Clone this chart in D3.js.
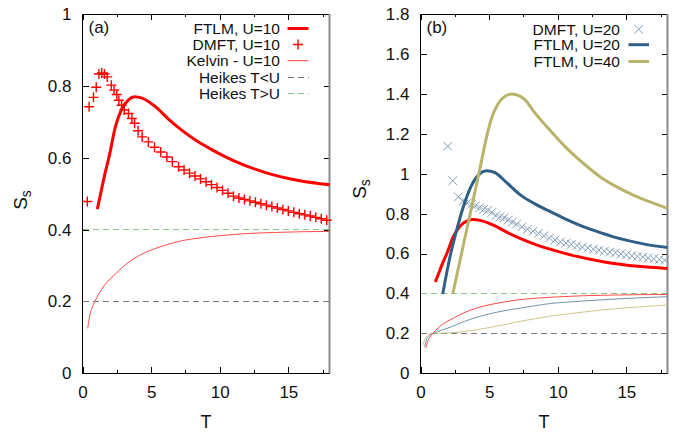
<!DOCTYPE html>
<html>
<head>
<meta charset="utf-8">
<script src="https://cdn.jsdelivr.net/npm/d3@7"></script>
<style>
  body { margin: 0; background: #fff; }
  svg { display: block; }
  text { font-family: "Liberation Sans", Arial, Helvetica, sans-serif; fill: #111; }
</style>
</head>
<body>
<svg id="chart" width="685" height="435"></svg>
<script>
// ---- x axis ticks (shared) ----
const tMajor = [0, 5, 10, 15];
const tMinor = [2.5, 7.5, 12.5, 17.5];

// ---- panel (a) y ticks ----
const yTicksA = [0, 0.2, 0.4, 0.6, 0.8, 1];
const yLabelsA = ["0", "0.2", "0.4", "0.6", "0.8", "1"];
// ---- panel (b) y ticks ----
const yTicksB = [0, 0.2, 0.4, 0.6, 0.8, 1, 1.2, 1.4, 1.6, 1.8];
const yLabelsB = ["0", "0.2", "0.4", "0.6", "0.8", "1", "1.2", "1.4", "1.6", "1.8"];

// ---- FTLM, U=10 ----
const ftlm10T = [1.08, 1.35, 1.62, 1.95, 2.39, 2.88, 3.37, 3.8, 4.34, 5.31, 6.28, 7.25, 8.4, 9.44, 11.0, 13.4, 15.85, 18];
const ftlm10S = [0.457, 0.505, 0.553, 0.605, 0.685, 0.737, 0.762, 0.770, 0.766, 0.742, 0.707, 0.676, 0.645, 0.622, 0.592, 0.558, 0.536, 0.525];

// ---- DMFT, U=10 ----
const dmft10T = [0.35, 0.48, 0.8, 1.0, 1.2, 1.4, 1.6, 1.8, 2.1, 2.3, 2.5, 2.65, 2.85, 3.05, 3.35, 3.6, 3.8, 4.05, 4.35, 4.8, 5.25, 5.7, 6.15, 6.55, 7.0, 7.4, 7.8, 8.2, 8.6, 9.0, 9.4, 9.8, 10.2, 10.6, 11.0, 11.4, 11.8, 12.2, 12.6, 13.0, 13.4, 13.8, 14.2, 14.6, 15.0, 15.4, 15.8, 16.2, 16.6, 17.0, 17.4, 17.8];
const dmft10S = [0.478, 0.742, 0.768, 0.796, 0.833, 0.836, 0.833, 0.825, 0.802, 0.788, 0.776, 0.760, 0.746, 0.733, 0.723, 0.709, 0.696, 0.675, 0.658, 0.644, 0.629, 0.616, 0.602, 0.589, 0.575, 0.566, 0.557, 0.549, 0.541, 0.533, 0.525, 0.517, 0.509, 0.501, 0.493, 0.488, 0.484, 0.480, 0.476, 0.472, 0.468, 0.464, 0.460, 0.456, 0.452, 0.448, 0.444, 0.441, 0.438, 0.434, 0.430, 0.426];

// ---- Kelvin, U=10 ----
const kelvin10T = [0.38, 0.5, 0.7, 0.9, 1.2, 1.6, 2.0, 2.5, 3, 4, 5, 6, 7, 8, 10, 12, 14, 16, 18];
const kelvin10S = [0.125, 0.155, 0.183, 0.200, 0.222, 0.245, 0.262, 0.280, 0.298, 0.325, 0.343, 0.356, 0.367, 0.374, 0.383, 0.389, 0.392, 0.394, 0.395];

// ---- FTLM, U=20 ----
const ftlm20T = [1.62, 2.15, 2.64, 3.12, 3.73, 4.34, 4.82, 5.43, 6.28, 7.25, 8.3, 9.4, 10.5, 11.5, 12.8, 14, 15.3, 16.4, 18];
const ftlm20S = [0.397, 0.584, 0.718, 0.834, 0.943, 1.001, 1.015, 1.005, 0.955, 0.895, 0.850, 0.812, 0.775, 0.745, 0.712, 0.685, 0.662, 0.646, 0.630];

// ---- FTLM, U=40 ----
const ftlm40T = [2.35, 3.0, 3.7, 4.3, 4.94, 5.3, 5.67, 6.1, 6.65, 7.2, 7.62, 8.22, 9.44, 10.66, 11.87, 13.08, 14.3, 15.51, 16.73, 18];
const ftlm40S = [0.397, 0.603, 0.825, 1.015, 1.220, 1.300, 1.352, 1.385, 1.399, 1.390, 1.370, 1.315, 1.218, 1.127, 1.052, 0.985, 0.934, 0.893, 0.859, 0.827];

// ---- DMFT, U=20 ----
const dmft20T = [1.98, 2.35, 2.76, 3.1, 3.4, 3.7, 4.0, 4.3, 4.6, 4.9, 5.2, 5.5, 5.8, 6.1, 6.4, 6.7, 7.0, 7.4, 7.8, 8.2, 8.6, 9.0, 9.4, 9.8, 10.2, 10.6, 11.0, 11.4, 11.8, 12.2, 12.6, 13.0, 13.4, 13.8, 14.2, 14.6, 15.0, 15.4, 15.8, 16.2, 16.6, 17.0, 17.4, 17.8];
const dmft20S = [1.138, 0.965, 0.884, 0.862, 0.853, 0.846, 0.838, 0.829, 0.821, 0.816, 0.806, 0.790, 0.784, 0.779, 0.768, 0.758, 0.747, 0.734, 0.722, 0.712, 0.701, 0.689, 0.678, 0.668, 0.658, 0.652, 0.646, 0.640, 0.632, 0.627, 0.622, 0.617, 0.612, 0.607, 0.603, 0.598, 0.593, 0.589, 0.585, 0.582, 0.578, 0.574, 0.570, 0.566];

// ---- Kelvin, U=20 and U=40 ----
const kelvin20T = [0.3, 0.45, 0.67, 1.03, 1.5, 2.25, 3.2, 4.68, 6.0, 7.1, 8.3, 9.5, 10.8, 12.0, 14.4, 16.0, 18.0];
const kelvin20S = [0.133, 0.170, 0.192, 0.203, 0.215, 0.233, 0.260, 0.292, 0.312, 0.325, 0.338, 0.350, 0.357, 0.363, 0.373, 0.378, 0.384];
const kelvin40T = [0.18, 0.3, 0.42, 0.6, 0.79, 1.2, 2.25, 3.5, 4.68, 6.0, 7.1, 8.3, 9.5, 10.8, 12.0, 14.4, 16.0, 18.0];
const kelvin40S = [0.142, 0.168, 0.183, 0.194, 0.200, 0.201, 0.203, 0.212, 0.225, 0.242, 0.258, 0.273, 0.287, 0.298, 0.308, 0.325, 0.333, 0.342];

// ---- Heikes limits ----
const heikesLow = 0.2;   // T<U
const heikesHigh = 0.4;  // T>U

// ---- legends ----
const legendA = ["FTLM, U=10", "DMFT, U=10", "Kelvin - U=10", "Heikes T<U", "Heikes T>U"];
const legendB = ["DMFT, U=20", "FTLM, U=20", "FTLM, U=40"];

const C = {
  red: "#ff0000", redThin: "#ff4a4a",
  blue: "#2f5f86", blueThin: "#7393ae",
  olive: "#bab36a", oliveThin: "#cdc58e",
  cross: "#7f9cb6", gray: "#7a7a7a", green: "#8cc488"
};

const svg = d3.select("#chart");
const FONT_TICK = 17;
const plotTop = 14, plotBottom = 373.3;

const pairs = (ts, ss) => d3.zip(ts, ss);
const plusPath = "M-5,0H5M0,-5V5";
const crossPath = "M-4.3,-4.3L4.3,4.3M-4.3,4.3L4.3,-4.3";

function makePanel(opt) {
  const x = d3.scaleLinear().domain([0, 18]).range([opt.left, opt.right]);
  const y = d3.scaleLinear().domain([0, opt.yMax]).range([plotBottom, plotTop]);
  const g = svg.append("g");

  const line = d3.line().x(d => x(d[0])).y(d => y(d[1])).curve(d3.curveMonotoneX);

  // frame
  g.append("path")
    .attr("d", `M${opt.right},${plotTop}H${opt.left}V${plotBottom}H${opt.right}`)
    .attr("fill", "none").attr("stroke", "#000").attr("stroke-width", 1)
    .attr("shape-rendering", "crispEdges");

  // axes: ticks point inward and are mirrored on top/right
  const styleAxis = sel => {
    sel.select(".domain").remove();
    sel.selectAll(".tick line").attr("stroke", "#000").attr("shape-rendering", "crispEdges");
    sel.selectAll(".tick text").attr("font-size", FONT_TICK).attr("fill", "#111")
      .style("font-family", '"Liberation Sans", Arial, sans-serif');
  };
  g.append("g").attr("transform", `translate(0,${plotBottom})`)
    .call(d3.axisBottom(x).tickValues(tMajor).tickSize(-6).tickPadding(13).tickFormat(d3.format("d")))
    .call(styleAxis);
  g.append("g").attr("transform", `translate(0,${plotBottom})`)
    .call(d3.axisBottom(x).tickValues(tMinor).tickSize(-3).tickFormat(""))
    .call(styleAxis);
  g.append("g").attr("transform", `translate(0,${plotTop})`)
    .call(d3.axisTop(x).tickValues(tMajor).tickSize(-6).tickFormat(""))
    .call(styleAxis);
  g.append("g").attr("transform", `translate(0,${plotTop})`)
    .call(d3.axisTop(x).tickValues(tMinor).tickSize(-3).tickFormat(""))
    .call(styleAxis);
  g.append("g").attr("transform", `translate(${opt.left},0)`)
    .call(d3.axisLeft(y).tickValues(opt.yTicks).tickSize(-6).tickPadding(11)
      .tickFormat((d, i) => opt.yLabels[i]))
    .call(styleAxis);
  g.append("g").attr("transform", `translate(${opt.right},0)`)
    .call(d3.axisRight(y).tickValues(opt.yTicks).tickSize(-6).tickFormat(""))
    .call(styleAxis);

  // right border is drawn a little heavier in grey
  g.append("line").attr("x1", opt.right).attr("x2", opt.right)
    .attr("y1", plotTop).attr("y2", plotBottom)
    .attr("stroke", "#8a8a8a").attr("stroke-width", 2);

  // Heikes limits
  [[heikesLow, C.gray], [heikesHigh, C.green]].forEach(([v, col]) => {
    g.append("line").attr("x1", x(0)).attr("x2", x(18))
      .attr("y1", y(v)).attr("y2", y(v))
      .attr("stroke", col).attr("stroke-width", 1).attr("stroke-dasharray", "6,4")
      .attr("shape-rendering", "crispEdges");
  });

  // axis titles
  g.append("text").attr("x", (opt.left + opt.right) / 2).attr("y", 428)
    .attr("text-anchor", "middle").attr("font-size", 18).text("T");
  const yt = g.append("text")
    .attr("transform", `translate(${opt.yTitleX},${opt.yTitleY}) rotate(-90)`)
    .attr("text-anchor", "middle").attr("font-size", 19);
  yt.append("tspan").text("S");
  yt.append("tspan").attr("font-size", 14).attr("dy", 4).text("s");

  // panel tag
  g.append("text").attr("x", opt.left + 6).attr("y", 33).attr("font-size", 17).text(opt.tag);

  return { g, x, y, line };
}

// ---------------- panel (a) ----------------
const A = makePanel({ left: 82.5, right: 329.5, yMax: 1, yTicks: yTicksA, yLabels: yLabelsA,
  yTitleX: 27, yTitleY: 200, tag: "(a)" });

A.g.append("path").datum(pairs(kelvin10T, kelvin10S)).attr("d", A.line)
  .attr("fill", "none").attr("stroke", C.redThin).attr("stroke-width", 1);
A.g.append("path").datum(pairs(ftlm10T, ftlm10S)).attr("d", A.line)
  .attr("fill", "none").attr("stroke", C.red).attr("stroke-width", 3);
A.g.selectAll(".plus").data(pairs(dmft10T, dmft10S)).join("path")
  .attr("class", "plus").attr("d", plusPath)
  .attr("transform", d => `translate(${A.x(d[0])},${A.y(d[1])})`)
  .attr("fill", "none").attr("stroke", C.red).attr("stroke-width", 1.4);

// legend (a)
{
  const rows = [28.5, 44.5, 60.7, 77, 93.2];
  const tx = 280, s0 = 287.5, s1 = 308.5;
  legendA.forEach((lab, i) => {
    A.g.append("text").attr("x", tx).attr("y", rows[i] + 5.5).attr("text-anchor", "end")
      .attr("font-size", 15.5).text(lab);
  });
  const leg = A.g;
  leg.append("line").attr("x1", s0).attr("x2", s1).attr("y1", rows[0]).attr("y2", rows[0])
    .attr("stroke", C.red).attr("stroke-width", 3);
  leg.append("path").attr("d", plusPath).attr("transform", `translate(${(s0 + s1) / 2},${rows[1]})`)
    .attr("fill", "none").attr("stroke", C.red).attr("stroke-width", 1.4);
  leg.append("line").attr("x1", s0).attr("x2", s1).attr("y1", rows[2]).attr("y2", rows[2])
    .attr("stroke", C.redThin).attr("stroke-width", 1);
  leg.append("line").attr("x1", s0).attr("x2", s1).attr("y1", rows[3]).attr("y2", rows[3])
    .attr("stroke", C.gray).attr("stroke-width", 1).attr("stroke-dasharray", "6,4")
    .attr("shape-rendering", "crispEdges");
  leg.append("line").attr("x1", s0).attr("x2", s1).attr("y1", rows[4]).attr("y2", rows[4])
    .attr("stroke", C.green).attr("stroke-width", 1).attr("stroke-dasharray", "6,4")
    .attr("shape-rendering", "crispEdges");
}

// ---------------- panel (b) ----------------
const B = makePanel({ left: 420.5, right: 667.5, yMax: 1.8, yTicks: yTicksB, yLabels: yLabelsB,
  yTitleX: 366, yTitleY: 189, tag: "(b)" });

[[kelvin40T, kelvin40S, C.oliveThin], [kelvin20T, kelvin20S, C.blueThin], [kelvin10T, kelvin10S, C.redThin]]
  .forEach(([ts, ss, col]) => {
    B.g.append("path").datum(pairs(ts, ss)).attr("d", B.line)
      .attr("fill", "none").attr("stroke", col).attr("stroke-width", 1);
  });
B.g.selectAll(".cross").data(pairs(dmft20T, dmft20S)).join("path")
  .attr("class", "cross").attr("d", crossPath)
  .attr("transform", d => `translate(${B.x(d[0])},${B.y(d[1])})`)
  .attr("fill", "none").attr("stroke", C.cross).attr("stroke-width", 1);
[[ftlm10T, ftlm10S, C.red], [ftlm20T, ftlm20S, C.blue], [ftlm40T, ftlm40S, C.olive]]
  .forEach(([ts, ss, col]) => {
    B.g.append("path").datum(pairs(ts, ss)).attr("d", B.line)
      .attr("fill", "none").attr("stroke", col).attr("stroke-width", 3);
  });

// legend (b)
{
  const rows = [29.3, 44.7, 61.5];
  const tx = 620, s0 = 628.5, s1 = 649;
  legendB.forEach((lab, i) => {
    B.g.append("text").attr("x", tx).attr("y", rows[i] + 5.5).attr("text-anchor", "end")
      .attr("font-size", 15.5).text(lab);
  });
  B.g.append("path").attr("d", crossPath).attr("transform", `translate(${(s0 + s1) / 2},${rows[0]})`)
    .attr("fill", "none").attr("stroke", C.cross).attr("stroke-width", 1);
  B.g.append("line").attr("x1", s0).attr("x2", s1).attr("y1", rows[1]).attr("y2", rows[1])
    .attr("stroke", C.blue).attr("stroke-width", 3);
  B.g.append("line").attr("x1", s0).attr("x2", s1).attr("y1", rows[2]).attr("y2", rows[2])
    .attr("stroke", C.olive).attr("stroke-width", 3);
}
</script>
</body>
</html>
